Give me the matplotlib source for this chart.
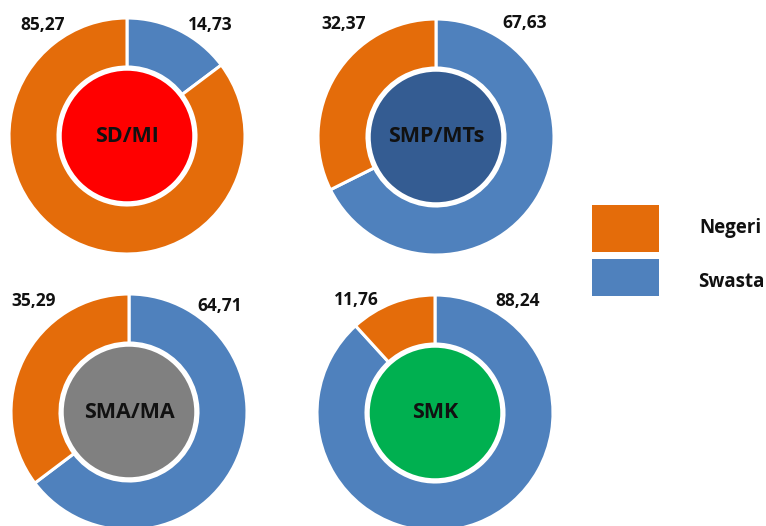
import matplotlib
matplotlib.use("Agg")
import matplotlib.pyplot as plt
from matplotlib.patches import Circle, Rectangle

# ---- data ----
categories = ["SD/MI", "SMP/MTs", "SMA/MA", "SMK"]
negeri = [85.27, 32.37, 35.29, 11.76]
swasta = [14.73, 67.63, 64.71, 88.24]
legend_labels = ["Negeri", "Swasta"]

# ---- style / layout ----
C_NEG = "#E46C0A"
C_SWA = "#4F81BD"
center_colors = ["#FF0000", "#345C92", "#808080", "#00B050"]
W, H = 766, 526
centers_px = [(127, 136), (436, 137), (129, 412), (435, 413)]
R_OUT = 118
R_IN = 69
# label offsets (px) relative to donut centre: (negeri, swasta)
lab_off = [((-84, -111), (83, -111)),
           ((-92, -113), (89, -114)),
           ((-95, -111), (91, -106)),
           ((-79, -113), (83, -112))]

plt.rcParams['font.family'] = ['Open Sans', 'DejaVu Sans']

fig = plt.figure(figsize=(W / 100, H / 100), dpi=100)
ax = fig.add_axes([0, 0, 1, 1])


def Y(yp):
    return H - yp


for i, cat in enumerate(categories):
    cx, cyp = centers_px[i]
    cy = Y(cyp)
    ax.pie([swasta[i], negeri[i]], colors=[C_SWA, C_NEG], startangle=90,
           counterclock=False, center=(cx, cy), radius=R_OUT,
           wedgeprops=dict(width=R_OUT - R_IN, edgecolor="white", linewidth=2.2))
    ax.add_patch(Circle((cx, cy), R_IN - 2, facecolor=center_colors[i],
                        edgecolor="white", linewidth=2.5, zorder=3))
    ax.text(cx, cy, cat, ha="center", va="center", fontsize=15.5,
            fontweight="bold", color="#111111", zorder=4)
    (nx, ny), (sx, sy) = lab_off[i]
    ax.text(cx + nx, Y(cyp + ny), f"{negeri[i]:.2f}".replace(".", ","),
            ha="center", va="center", fontsize=12.5, fontweight="bold", color="#111111")
    ax.text(cx + sx, Y(cyp + sy), f"{swasta[i]:.2f}".replace(".", ","),
            ha="center", va="center", fontsize=12.5, fontweight="bold", color="#111111")

# legend
leg_colors = [C_NEG, C_SWA]
leg_boxes = [(592, 205, 67, 47), (592, 259, 67, 37)]
leg_text = [(730, 228), (731, 282)]
for (x, y, w, h), c, (tx, ty), lab in zip(leg_boxes, leg_colors, leg_text, legend_labels):
    ax.add_patch(Rectangle((x, Y(y + h)), w, h, facecolor=c, edgecolor="none"))
    ax.text(tx, Y(ty), lab, ha="center", va="center", fontsize=13.5,
            fontweight="bold", color="#111111")

ax.set_xlim(0, W)
ax.set_ylim(0, H)
ax.set_aspect("auto")
ax.axis("off")
fig.savefig("out.png", dpi=100)
